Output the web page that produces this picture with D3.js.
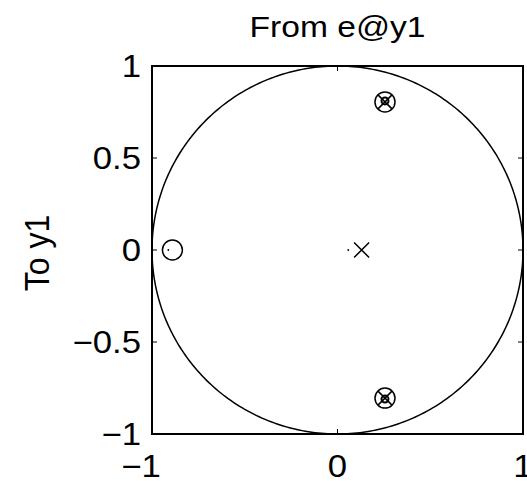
<!DOCTYPE html>
<html>
<head>
<meta charset="utf-8">
<script src="https://cdn.jsdelivr.net/npm/d3@7"></script>
<style>
  body { margin: 0; background: #fff; }
  text { font-family: Helvetica, Arial, "Liberation Sans", sans-serif; fill: #000; }
</style>
</head>
<body>
<div id="chart"></div>
<script>
var titleText = 'From e@y1';
var yLabelText = 'To y1';
var xTicks = [-1, 0, 1];
var yTicks = [-1, -0.5, 0, 0.5, 1];
var zerosRe = [-0.89, 0.256, 0.256];
var zerosIm = [0, 0.805, -0.805];
var polesRe = [0.13, 0.256, 0.256];
var polesIm = [0, 0.805, -0.805];
var dotsRe = [0.058, -0.912];
var dotsIm = [0, 0];

var width = 527, height = 481,
  plotL = 152, plotR = 523, plotT = 66, plotB = 434,
  stretch = 1.12;

var x = d3.scaleLinear().domain([-1, 1]).range([plotL, plotR]);
var y = d3.scaleLinear().domain([-1, 1]).range([plotB, plotT]);

var svg = d3.select('#chart').append('svg')
  .attr('width', width)
  .attr('height', height);

function label(txt, px, py, anchor, fs, rot) {
  return svg.append('text').text(txt)
    .attr('transform', 'translate(' + px + ',' + py + ') scale(' + stretch + ',1)' + (rot ? ' rotate(' + rot + ')' : ''))
    .style('text-anchor', anchor)
    .style('font-size', fs + 'px');
}

function fmt(t) { return t < 0 ? '\u2212' + Math.abs(t) : String(t); }

// unit circle
var line = d3.line().x(function(d) { return x(Math.cos(d)); }).y(function(d) { return y(Math.sin(d)); });
svg.append('path')
  .datum(d3.range(0, 361).map(function(d) { return d * Math.PI / 180; }))
  .attr('d', line)
  .style('fill', 'none')
  .style('stroke', '#000')
  .style('stroke-width', 1.5);

// box + ticks
svg.append('rect')
  .attr('x', plotL).attr('y', plotT)
  .attr('width', plotR - plotL).attr('height', plotB - plotT)
  .style('fill', 'none').style('stroke', '#000').style('stroke-width', 2);

var tl = 5;
xTicks.forEach(function(t) {
  svg.append('line').attr('x1', x(t)).attr('x2', x(t)).attr('y1', plotB).attr('y2', plotB - tl).style('stroke', '#000');
  svg.append('line').attr('x1', x(t)).attr('x2', x(t)).attr('y1', plotT).attr('y2', plotT + tl).style('stroke', '#000');
  label(fmt(t), x(t) + (t < 0 ? -11 : 0), 477, 'middle', 31);
});
yTicks.forEach(function(t) {
  svg.append('line').attr('x1', plotL).attr('x2', plotL + tl).attr('y1', y(t)).attr('y2', y(t)).style('stroke', '#000');
  svg.append('line').attr('x1', plotR).attr('x2', plotR - tl).attr('y1', y(t)).attr('y2', y(t)).style('stroke', '#000');
  label(fmt(t), 141, y(t) + 11, 'end', 31);
});

label(titleText, (plotL + plotR) / 2, 37, 'middle', 30);
label(yLabelText, 49, (plotT + plotB) / 2 + 3, 'middle', 32, -90);

var g = svg.append('g').style('stroke', '#000').style('fill', 'none').style('stroke-width', 1.5);

// zeros
g.selectAll('circle.zero').data(d3.range(zerosRe.length)).enter().append('circle')
  .attr('class', 'zero')
  .attr('cx', function(i) { return x(zerosRe[i]); })
  .attr('cy', function(i) { return y(zerosIm[i]); })
  .attr('r', 10);

// poles
g.selectAll('path.pole').data(d3.range(polesRe.length)).enter().append('path')
  .attr('class', 'pole')
  .attr('d', function(i) {
    var cx = x(polesRe[i]), cy = y(polesIm[i]), s = i === 0 ? 7.5 : 7;
    return 'M' + (cx - s) + ',' + (cy - s) + 'L' + (cx + s) + ',' + (cy + s) +
      'M' + (cx - s) + ',' + (cy + s) + 'L' + (cx + s) + ',' + (cy - s);
  });

// small inner marks of the overlapping pole/zero pairs
g.selectAll('circle.inner').data(d3.range(1, zerosRe.length)).enter().append('circle')
  .attr('class', 'inner')
  .attr('cx', function(i) { return x(zerosRe[i]); })
  .attr('cy', function(i) { return y(zerosIm[i]) + (zerosIm[i] > 0 ? -1 : 1); })
  .attr('r', 3.5)
  .style('stroke-width', 2);

svg.selectAll('circle.dot').data(d3.range(dotsRe.length)).enter().append('circle')
  .attr('class', 'dot')
  .attr('cx', function(i) { return x(dotsRe[i]); })
  .attr('cy', function(i) { return y(dotsIm[i]); })
  .attr('r', 0.9)
  .style('fill', '#000');
</script>
</body>
</html>
